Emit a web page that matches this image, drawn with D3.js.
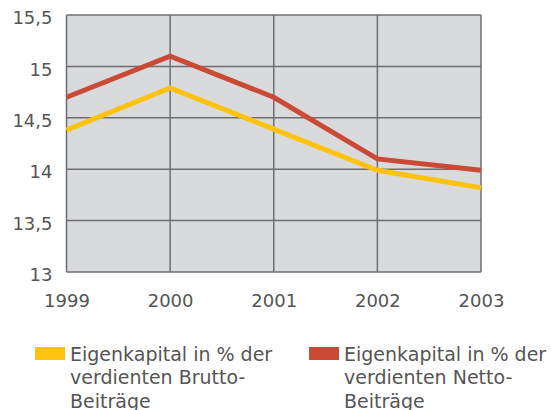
<!DOCTYPE html>
<html>
<head>
<meta charset="utf-8">
<script src="https://cdn.jsdelivr.net/npm/d3@7"></script>
<style>
	body { margin: 0; background: #ffffff; }
	svg text { font-family: "DejaVu Sans", Verdana, sans-serif; fill: #555555; }
</style>
</head>
<body>
<svg id="chart" width="551" height="410"></svg>
<script>
// Data
var years = ["1999", "2000", "2001", "2002", "2003"];
var brutto = [14.38, 14.79, 14.39, 13.99, 13.82];
var netto = [14.70, 15.10, 14.70, 14.10, 13.99];
var yTicks = [13, 13.5, 14, 14.5, 15, 15.5];
var seriesNames = ["Eigenkapital in % der|verdienten Brutto-|Beiträge", "Eigenkapital in % der|verdienten Netto-|Beiträge"];
var seriesColors = ["#ffc20e", "#cb4a36"];

var margin = {top: 15, right: 70, bottom: 138, left: 66.5};
var width = 551 - margin.left - margin.right,
	height = 410 - margin.top - margin.bottom;

var svg = d3.select("#chart");
var g = svg.append("g")
	.attr("transform", "translate(" + margin.left + "," + margin.top + ")");

var x = d3.scalePoint()
	.domain(years)
	.range([0, width]);

var y = d3.scaleLinear()
	.domain([13, 15.5])
	.range([height, 0]);

var fmt = function(d) { return String(d).replace(".", ","); };

// background
g.append("rect")
	.attr("width", width)
	.attr("height", height)
	.attr("fill", "#d9dadc");

// grid
g.selectAll(".hgrid")
	.data(yTicks)
	.enter().append("line")
	.attr("x1", 0).attr("x2", width)
	.attr("y1", function(d) { return y(d); })
	.attr("y2", function(d) { return y(d); })
	.attr("stroke", "#6e6e6e")
	.attr("stroke-width", 1.5);

g.selectAll(".vgrid")
	.data(years)
	.enter().append("line")
	.attr("y1", 0).attr("y2", height)
	.attr("x1", function(d) { return x(d); })
	.attr("x2", function(d) { return x(d); })
	.attr("stroke", "#6e6e6e")
	.attr("stroke-width", 1.5);

// axes (labels only)
var yAxis = d3.axisLeft(y).tickValues(yTicks).tickFormat(fmt).tickSize(0).tickPadding(14);
var yg = g.append("g").call(yAxis);
yg.select(".domain").remove();
yg.selectAll("text").attr("font-size", "18px").attr("dy", "0.48em").attr("fill", "#555555");

var xAxis = d3.axisBottom(x).tickSize(0).tickPadding(22);
var xg = g.append("g").attr("transform", "translate(0," + height + ")").call(xAxis);
xg.select(".domain").remove();
xg.selectAll("text").attr("font-size", "18px").attr("fill", "#555555");

// lines
var line = d3.line()
	.x(function(d, i) { return x(years[i]); })
	.y(function(d) { return y(d); });

[brutto, netto].forEach(function(s, i) {
	g.append("path")
		.datum(s)
		.attr("fill", "none")
		.attr("stroke", seriesColors[i])
		.attr("stroke-width", 5)
		.attr("stroke-linejoin", "miter")
		.attr("d", line);
});

// legend
var legendX = [35, 309];
seriesNames.forEach(function(name, i) {
	var lg = svg.append("g").attr("transform", "translate(" + legendX[i] + ",347)");
	lg.append("rect")
		.attr("width", 30)
		.attr("height", 13)
		.attr("fill", seriesColors[i]);
	var t = lg.append("text")
		.attr("x", 35)
		.attr("y", 13.5)
		.attr("font-size", "19px");
	name.split("|").forEach(function(part, k) {
		t.append("tspan")
			.attr("x", 35)
			.attr("dy", k == 0 ? 0 : 23.8)
			.text(part);
	});
});
</script>
</body>
</html>
